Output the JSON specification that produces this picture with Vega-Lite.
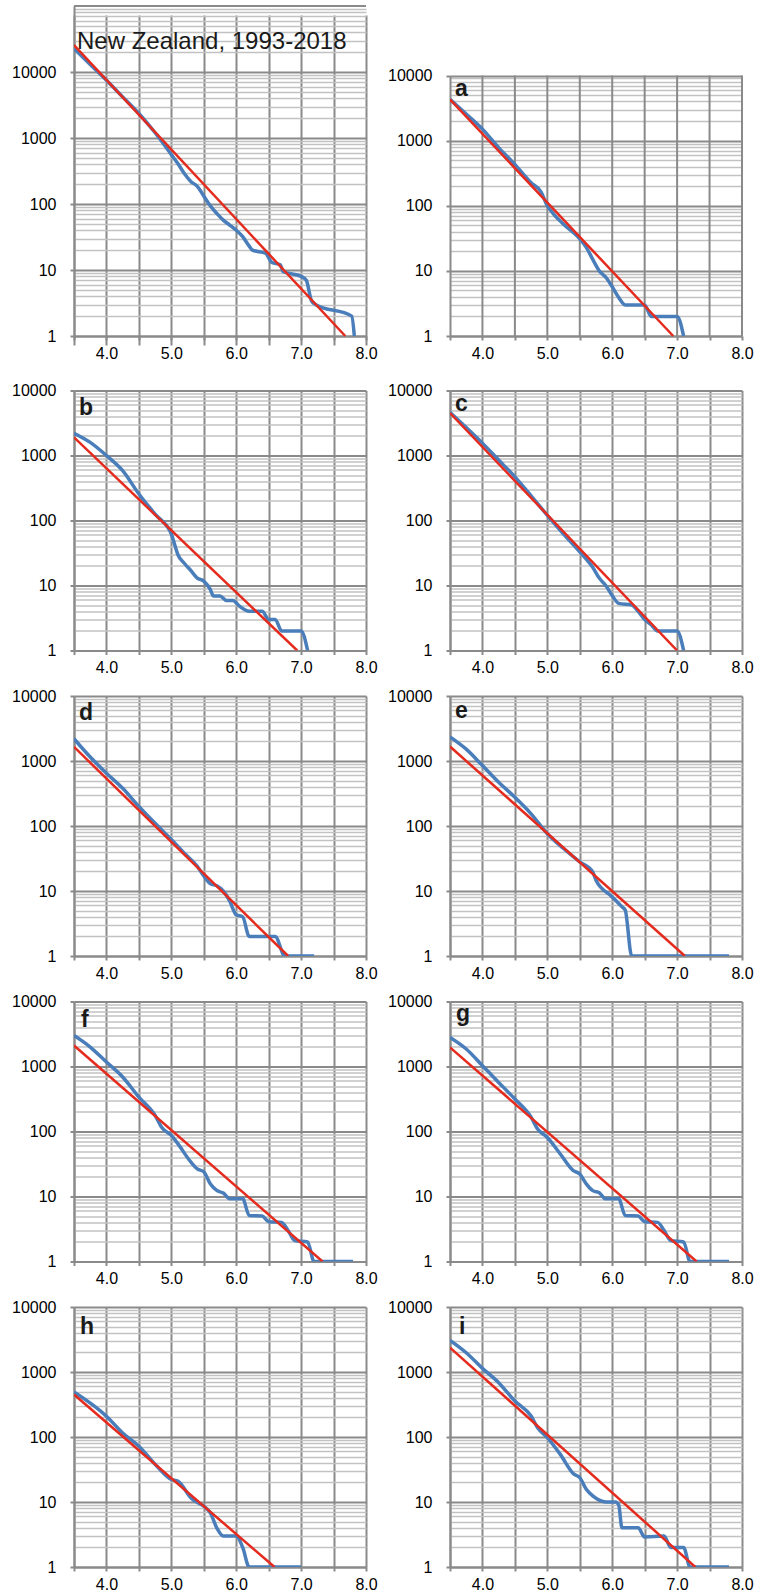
{
  "$schema": "https://vega.github.io/schema/vega-lite/v6.json",
  "padding": {"left": 11, "top": 1, "right": 0, "bottom": 0},
  "background": "white",
  "config": {
    "font": "Liberation Sans",
    "view": {"stroke": null},
    "axis": {"labelFont": "Liberation Sans", "labelFontSize": 16, "labelColor": "#000000", "domainColor": "#8a8a8a", "domainWidth": 2, "tickColor": "#8a8a8a", "tickWidth": 2, "tickSize": 4, "grid": true, "gridColor": "#8a8a8a", "gridWidth": 2, "gridOpacity": 1, "labelOverlap": false, "labelFlush": false, "labelBound": false},
    "axisX": {"labelPadding": 5, "tickCount": 20},
    "axisY": {"labelPadding": 14, "tickCount": 100}
  },
  "data": {"values": [
    {"p":"NZ","s":"obs","m":3.5,"n":22700},{"p":"NZ","s":"obs","m":3.75,"n":13000},{"p":"NZ","s":"obs","m":4.0,"n":7500},{"p":"NZ","s":"obs","m":4.25,"n":4200},{"p":"NZ","s":"obs","m":4.5,"n":2350},{"p":"NZ","s":"obs","m":4.75,"n":1200},{"p":"NZ","s":"obs","m":5.0,"n":560},{"p":"NZ","s":"obs","m":5.1,"n":410},{"p":"NZ","s":"obs","m":5.2,"n":290},{"p":"NZ","s":"obs","m":5.3,"n":220},{"p":"NZ","s":"obs","m":5.4,"n":185},{"p":"NZ","s":"obs","m":5.5,"n":132},{"p":"NZ","s":"obs","m":5.6,"n":94},{"p":"NZ","s":"obs","m":5.7,"n":72},{"p":"NZ","s":"obs","m":5.8,"n":57},{"p":"NZ","s":"obs","m":5.9,"n":48},{"p":"NZ","s":"obs","m":6.0,"n":40},{"p":"NZ","s":"obs","m":6.1,"n":32},{"p":"NZ","s":"obs","m":6.2,"n":23},{"p":"NZ","s":"obs","m":6.25,"n":20},{"p":"NZ","s":"obs","m":6.45,"n":18},{"p":"NZ","s":"obs","m":6.55,"n":13},{"p":"NZ","s":"obs","m":6.68,"n":12},{"p":"NZ","s":"obs","m":6.72,"n":9.5},{"p":"NZ","s":"obs","m":7.0,"n":8},{"p":"NZ","s":"obs","m":7.08,"n":7},{"p":"NZ","s":"obs","m":7.16,"n":3.4},{"p":"NZ","s":"obs","m":7.22,"n":3},{"p":"NZ","s":"obs","m":7.78,"n":2},{"p":"NZ","s":"obs","m":7.82,"n":1},
    {"p":"NZ","s":"fit","m":3.5,"n":25600},{"p":"NZ","s":"fit","m":7.68,"n":1},
    {"p":"a","s":"obs","m":3.5,"n":4300},{"p":"a","s":"obs","m":3.75,"n":2550},{"p":"a","s":"obs","m":4.0,"n":1500},{"p":"a","s":"obs","m":4.25,"n":780},{"p":"a","s":"obs","m":4.5,"n":430},{"p":"a","s":"obs","m":4.75,"n":225},{"p":"a","s":"obs","m":4.9,"n":165},{"p":"a","s":"obs","m":5.0,"n":100},{"p":"a","s":"obs","m":5.1,"n":74},{"p":"a","s":"obs","m":5.25,"n":52},{"p":"a","s":"obs","m":5.5,"n":31},{"p":"a","s":"obs","m":5.6,"n":23},{"p":"a","s":"obs","m":5.7,"n":15},{"p":"a","s":"obs","m":5.8,"n":10},{"p":"a","s":"obs","m":5.9,"n":8},{"p":"a","s":"obs","m":6.0,"n":5.7},{"p":"a","s":"obs","m":6.1,"n":3.9},{"p":"a","s":"obs","m":6.2,"n":3},{"p":"a","s":"obs","m":6.5,"n":3},{"p":"a","s":"obs","m":6.6,"n":2},{"p":"a","s":"obs","m":7.0,"n":2},{"p":"a","s":"obs","m":7.1,"n":1},
    {"p":"a","s":"fit","m":3.5,"n":4300},{"p":"a","s":"fit","m":6.94,"n":1},
    {"p":"b","s":"obs","m":3.5,"n":2200},{"p":"b","s":"obs","m":3.75,"n":1590},{"p":"b","s":"obs","m":4.0,"n":1000},{"p":"b","s":"obs","m":4.25,"n":585},{"p":"b","s":"obs","m":4.5,"n":256},{"p":"b","s":"obs","m":4.75,"n":125},{"p":"b","s":"obs","m":5.0,"n":62},{"p":"b","s":"obs","m":5.05,"n":43},{"p":"b","s":"obs","m":5.1,"n":30},{"p":"b","s":"obs","m":5.2,"n":22},{"p":"b","s":"obs","m":5.3,"n":17},{"p":"b","s":"obs","m":5.4,"n":13},{"p":"b","s":"obs","m":5.5,"n":11.7},{"p":"b","s":"obs","m":5.6,"n":8.7},{"p":"b","s":"obs","m":5.65,"n":6.9},{"p":"b","s":"obs","m":5.75,"n":6.9},{"p":"b","s":"obs","m":5.85,"n":5.9},{"p":"b","s":"obs","m":5.95,"n":5.9},{"p":"b","s":"obs","m":6.05,"n":4.8},{"p":"b","s":"obs","m":6.2,"n":4},{"p":"b","s":"obs","m":6.4,"n":4},{"p":"b","s":"obs","m":6.5,"n":3},{"p":"b","s":"obs","m":6.6,"n":3},{"p":"b","s":"obs","m":6.7,"n":2},{"p":"b","s":"obs","m":7.0,"n":2},{"p":"b","s":"obs","m":7.1,"n":1},
    {"p":"b","s":"fit","m":3.5,"n":1900},{"p":"b","s":"fit","m":6.94,"n":1},
    {"p":"c","s":"obs","m":3.5,"n":4600},{"p":"c","s":"obs","m":3.75,"n":2700},{"p":"c","s":"obs","m":4.0,"n":1550},{"p":"c","s":"obs","m":4.25,"n":850},{"p":"c","s":"obs","m":4.5,"n":470},{"p":"c","s":"obs","m":4.75,"n":240},{"p":"c","s":"obs","m":5.0,"n":120},{"p":"c","s":"obs","m":5.25,"n":62},{"p":"c","s":"obs","m":5.5,"n":33},{"p":"c","s":"obs","m":5.7,"n":19},{"p":"c","s":"obs","m":5.8,"n":13},{"p":"c","s":"obs","m":5.9,"n":10},{"p":"c","s":"obs","m":6.0,"n":7},{"p":"c","s":"obs","m":6.1,"n":5.3},{"p":"c","s":"obs","m":6.3,"n":5},{"p":"c","s":"obs","m":6.4,"n":4},{"p":"c","s":"obs","m":6.5,"n":3},{"p":"c","s":"obs","m":6.6,"n":2.5},{"p":"c","s":"obs","m":6.7,"n":2},{"p":"c","s":"obs","m":7.0,"n":2},{"p":"c","s":"obs","m":7.1,"n":1},
    {"p":"c","s":"fit","m":3.5,"n":4500},{"p":"c","s":"fit","m":7.0,"n":1},
    {"p":"d","s":"obs","m":3.5,"n":2200},{"p":"d","s":"obs","m":3.75,"n":1150},{"p":"d","s":"obs","m":4.0,"n":650},{"p":"d","s":"obs","m":4.25,"n":380},{"p":"d","s":"obs","m":4.5,"n":200},{"p":"d","s":"obs","m":4.75,"n":110},{"p":"d","s":"obs","m":5.0,"n":62},{"p":"d","s":"obs","m":5.2,"n":38},{"p":"d","s":"obs","m":5.4,"n":24},{"p":"d","s":"obs","m":5.5,"n":17},{"p":"d","s":"obs","m":5.6,"n":13},{"p":"d","s":"obs","m":5.7,"n":12},{"p":"d","s":"obs","m":5.8,"n":10},{"p":"d","s":"obs","m":5.9,"n":7},{"p":"d","s":"obs","m":6.0,"n":4.3},{"p":"d","s":"obs","m":6.1,"n":4},{"p":"d","s":"obs","m":6.2,"n":2},{"p":"d","s":"obs","m":6.6,"n":2},{"p":"d","s":"obs","m":6.75,"n":1},{"p":"d","s":"obs","m":7.2,"n":1},
    {"p":"d","s":"fit","m":3.5,"n":1650},{"p":"d","s":"fit","m":6.8,"n":1},
    {"p":"e","s":"obs","m":3.5,"n":2350},{"p":"e","s":"obs","m":3.75,"n":1520},{"p":"e","s":"obs","m":4.0,"n":850},{"p":"e","s":"obs","m":4.25,"n":470},{"p":"e","s":"obs","m":4.5,"n":277},{"p":"e","s":"obs","m":4.75,"n":154},{"p":"e","s":"obs","m":5.0,"n":76},{"p":"e","s":"obs","m":5.25,"n":45},{"p":"e","s":"obs","m":5.5,"n":28},{"p":"e","s":"obs","m":5.7,"n":19.6},{"p":"e","s":"obs","m":5.75,"n":14.6},{"p":"e","s":"obs","m":6.0,"n":8.1},{"p":"e","s":"obs","m":6.15,"n":5.7},{"p":"e","s":"obs","m":6.2,"n":5.1},{"p":"e","s":"obs","m":6.3,"n":1},{"p":"e","s":"obs","m":7.8,"n":1},
    {"p":"e","s":"fit","m":3.5,"n":1670},{"p":"e","s":"fit","m":7.12,"n":1},
    {"p":"f","s":"obs","m":3.5,"n":3000},{"p":"f","s":"obs","m":3.75,"n":1990},{"p":"f","s":"obs","m":4.0,"n":1170},{"p":"f","s":"obs","m":4.25,"n":690},{"p":"f","s":"obs","m":4.5,"n":338},{"p":"f","s":"obs","m":4.75,"n":177},{"p":"f","s":"obs","m":4.85,"n":116},{"p":"f","s":"obs","m":5.0,"n":87},{"p":"f","s":"obs","m":5.1,"n":65},{"p":"f","s":"obs","m":5.3,"n":34},{"p":"f","s":"obs","m":5.4,"n":26.7},{"p":"f","s":"obs","m":5.5,"n":24},{"p":"f","s":"obs","m":5.6,"n":15.7},{"p":"f","s":"obs","m":5.7,"n":12.4},{"p":"f","s":"obs","m":5.8,"n":11.3},{"p":"f","s":"obs","m":5.9,"n":9.2},{"p":"f","s":"obs","m":6.1,"n":9.2},{"p":"f","s":"obs","m":6.2,"n":5.1},{"p":"f","s":"obs","m":6.4,"n":5},{"p":"f","s":"obs","m":6.5,"n":4.1},{"p":"f","s":"obs","m":6.7,"n":4},{"p":"f","s":"obs","m":6.8,"n":3},{"p":"f","s":"obs","m":6.9,"n":2.1},{"p":"f","s":"obs","m":7.1,"n":2},{"p":"f","s":"obs","m":7.2,"n":1},{"p":"f","s":"obs","m":7.8,"n":1},
    {"p":"f","s":"fit","m":3.5,"n":2100},{"p":"f","s":"fit","m":7.33,"n":1},
    {"p":"g","s":"obs","m":3.5,"n":2800},{"p":"g","s":"obs","m":3.75,"n":1860},{"p":"g","s":"obs","m":4.0,"n":1030},{"p":"g","s":"obs","m":4.25,"n":569},{"p":"g","s":"obs","m":4.5,"n":316},{"p":"g","s":"obs","m":4.75,"n":166},{"p":"g","s":"obs","m":4.85,"n":109},{"p":"g","s":"obs","m":5.0,"n":81},{"p":"g","s":"obs","m":5.2,"n":45},{"p":"g","s":"obs","m":5.4,"n":25},{"p":"g","s":"obs","m":5.5,"n":22.2},{"p":"g","s":"obs","m":5.6,"n":15.6},{"p":"g","s":"obs","m":5.7,"n":12.3},{"p":"g","s":"obs","m":5.8,"n":11.4},{"p":"g","s":"obs","m":5.9,"n":9.2},{"p":"g","s":"obs","m":6.1,"n":9.2},{"p":"g","s":"obs","m":6.2,"n":5.1},{"p":"g","s":"obs","m":6.4,"n":5},{"p":"g","s":"obs","m":6.5,"n":4.1},{"p":"g","s":"obs","m":6.7,"n":4},{"p":"g","s":"obs","m":6.8,"n":3},{"p":"g","s":"obs","m":6.9,"n":2.1},{"p":"g","s":"obs","m":7.1,"n":2},{"p":"g","s":"obs","m":7.2,"n":1},{"p":"g","s":"obs","m":7.8,"n":1},
    {"p":"g","s":"fit","m":3.5,"n":1965},{"p":"g","s":"fit","m":7.3,"n":1},
    {"p":"h","s":"obs","m":3.5,"n":494},{"p":"h","s":"obs","m":4.0,"n":209},{"p":"h","s":"obs","m":4.25,"n":115},{"p":"h","s":"obs","m":4.5,"n":72},{"p":"h","s":"obs","m":4.8,"n":33.6},{"p":"h","s":"obs","m":5.0,"n":22.2},{"p":"h","s":"obs","m":5.1,"n":21},{"p":"h","s":"obs","m":5.3,"n":11.6},{"p":"h","s":"obs","m":5.6,"n":6.8},{"p":"h","s":"obs","m":5.7,"n":4},{"p":"h","s":"obs","m":5.8,"n":3},{"p":"h","s":"obs","m":6.0,"n":3},{"p":"h","s":"obs","m":6.1,"n":2},{"p":"h","s":"obs","m":6.2,"n":1},{"p":"h","s":"obs","m":7.0,"n":1},
    {"p":"h","s":"fit","m":3.5,"n":450},{"p":"h","s":"fit","m":6.59,"n":1},
    {"p":"i","s":"obs","m":3.5,"n":3070},{"p":"i","s":"obs","m":3.75,"n":1980},{"p":"i","s":"obs","m":4.0,"n":1138},{"p":"i","s":"obs","m":4.25,"n":685},{"p":"i","s":"obs","m":4.5,"n":358},{"p":"i","s":"obs","m":4.75,"n":210},{"p":"i","s":"obs","m":4.85,"n":139},{"p":"i","s":"obs","m":5.0,"n":98},{"p":"i","s":"obs","m":5.2,"n":54},{"p":"i","s":"obs","m":5.4,"n":27.3},{"p":"i","s":"obs","m":5.5,"n":23.7},{"p":"i","s":"obs","m":5.6,"n":15.7},{"p":"i","s":"obs","m":5.7,"n":12.4},{"p":"i","s":"obs","m":5.8,"n":10.7},{"p":"i","s":"obs","m":5.9,"n":10},{"p":"i","s":"obs","m":6.05,"n":10},{"p":"i","s":"obs","m":6.1,"n":9},{"p":"i","s":"obs","m":6.15,"n":4},{"p":"i","s":"obs","m":6.4,"n":4},{"p":"i","s":"obs","m":6.5,"n":2.9},{"p":"i","s":"obs","m":6.8,"n":3},{"p":"i","s":"obs","m":6.9,"n":2},{"p":"i","s":"obs","m":7.1,"n":2},{"p":"i","s":"obs","m":7.2,"n":1},{"p":"i","s":"obs","m":7.8,"n":1},
    {"p":"i","s":"fit","m":3.5,"n":2370},{"p":"i","s":"fit","m":7.28,"n":1}
  ]},
  "columns": 2,
  "bounds": "flush",
  "spacing": {"row": 45.5, "column": 84},
  "resolve": {"scale": {"x": "independent", "y": "independent"}},
  "concat": [
    {"width": 292, "height": 339, "layer": [
      {"transform": [{"filter": "datum.p === 'NZ' && datum.s === 'obs'"}], "mark": {"type": "line", "color": "#4A7EBB", "strokeWidth": 3.5, "interpolate": "monotone", "clip": true},
       "encoding": {"x": {"field": "m", "type": "quantitative", "scale": {"domain": [3.5, 8], "nice": false, "zero": false}, "axis": {"title": null, "offset": -9, "tickCount": 20, "values": [3.5,4,4.5,5,5.5,6,6.5,7,7.5,8], "labelExpr": "datum.value % 1 === 0 ? format(datum.value, '.1f') : ''"}},
         "y": {"field": "n", "type": "quantitative", "scale": {"type": "log", "domain": [1, 100000], "nice": false, "range": [330, 0]}, "axis": {"title": null, "tickCount": 100, "values": [1,2,3,4,5,6,7,8,9,10,20,30,40,50,60,70,80,90,100,200,300,400,500,600,700,800,900,1000,2000,3000,4000,5000,6000,7000,8000,9000,10000,20000,30000,40000,50000,60000,70000,80000,90000], "labelExpr": "indexof([1,10,100,1000,10000], datum.value) >= 0 ? format(datum.value, 'd') : ''", "gridColor": {"condition": {"test": "indexof([1,10,100,1000,10000,100000], datum.value) >= 0", "value": "#8a8a8a"}, "value": "#c2c2c2"}, "gridWidth": {"condition": {"test": "indexof([1,10,100,1000,10000,100000], datum.value) >= 0", "value": 2}, "value": 1.5}, "tickColor": {"condition": {"test": "indexof([1,10,100,1000,10000,100000], datum.value) >= 0", "value": "#8a8a8a"}, "value": "transparent"}}}}},
      {"transform": [{"filter": "datum.p === 'NZ' && datum.s === 'fit'"}], "mark": {"type": "line", "color": "#E52B1E", "strokeWidth": 2.5, "clip": true}, "encoding": {"x": {"field": "m", "type": "quantitative"}, "y": {"field": "n", "type": "quantitative"}}},
      {"data": {"values": [{"t": "top"}]}, "mark": {"type": "rule", "color": "#8a8a8a", "strokeWidth": 2}, "encoding": {"y": {"datum": 100000}}},
      {"data": {"values": [{"t": "New Zealand, 1993-2018"}]}, "mark": {"type": "text", "align": "left", "baseline": "alphabetic", "dx": 3, "dy": 43, "fontSize": 24, "color": "#1a1a1a"}, "encoding": {"x": {"datum": 3.5}, "y": {"datum": 100000}, "text": {"field": "t"}}}
    ]},
    {"width": 292, "height": 339, "layer": [
      {"data": {"values": [{"g": 1}]}, "mark": {"type": "rule", "color": "#8a8a8a", "strokeWidth": 2}, "encoding": {"x": {"datum": 4}, "y": {"datum": 1}, "y2": {"datum": 10000}}},
      {"data": {"values": [{"g": 1}]}, "mark": {"type": "rule", "color": "#8a8a8a", "strokeWidth": 2}, "encoding": {"x": {"datum": 4.5}, "y": {"datum": 1}, "y2": {"datum": 10000}}},
      {"data": {"values": [{"g": 1}]}, "mark": {"type": "rule", "color": "#8a8a8a", "strokeWidth": 2}, "encoding": {"x": {"datum": 5}, "y": {"datum": 1}, "y2": {"datum": 10000}}},
      {"data": {"values": [{"g": 1}]}, "mark": {"type": "rule", "color": "#8a8a8a", "strokeWidth": 2}, "encoding": {"x": {"datum": 5.5}, "y": {"datum": 1}, "y2": {"datum": 10000}}},
      {"data": {"values": [{"g": 1}]}, "mark": {"type": "rule", "color": "#8a8a8a", "strokeWidth": 2}, "encoding": {"x": {"datum": 6}, "y": {"datum": 1}, "y2": {"datum": 10000}}},
      {"data": {"values": [{"g": 1}]}, "mark": {"type": "rule", "color": "#8a8a8a", "strokeWidth": 2}, "encoding": {"x": {"datum": 6.5}, "y": {"datum": 1}, "y2": {"datum": 10000}}},
      {"data": {"values": [{"g": 1}]}, "mark": {"type": "rule", "color": "#8a8a8a", "strokeWidth": 2}, "encoding": {"x": {"datum": 7}, "y": {"datum": 1}, "y2": {"datum": 10000}}},
      {"data": {"values": [{"g": 1}]}, "mark": {"type": "rule", "color": "#8a8a8a", "strokeWidth": 2}, "encoding": {"x": {"datum": 7.5}, "y": {"datum": 1}, "y2": {"datum": 10000}}},
      {"data": {"values": [{"g": 1}]}, "mark": {"type": "rule", "color": "#8a8a8a", "strokeWidth": 2}, "encoding": {"x": {"datum": 8}, "y": {"datum": 1}, "y2": {"datum": 10000}}},
      {"transform": [{"filter": "datum.p === 'a' && datum.s === 'obs'"}], "mark": {"type": "line", "color": "#4A7EBB", "strokeWidth": 3.5, "interpolate": "monotone", "clip": true},
       "encoding": {"x": {"field": "m", "type": "quantitative", "scale": {"domain": [3.5, 8], "nice": false, "zero": false}, "axis": {"title": null, "grid": false, "offset": -9, "tickCount": 20, "values": [3.5,4,4.5,5,5.5,6,6.5,7,7.5,8], "labelExpr": "datum.value % 1 === 0 ? format(datum.value, '.1f') : ''"}},
         "y": {"field": "n", "type": "quantitative", "scale": {"type": "log", "domain": [1, 10000], "nice": false, "range": [330, 69.5]}, "axis": {"title": null, "tickCount": 100, "values": [1,2,3,4,5,6,7,8,9,10,20,30,40,50,60,70,80,90,100,200,300,400,500,600,700,800,900,1000,2000,3000,4000,5000,6000,7000,8000,9000,10000], "labelExpr": "indexof([1,10,100,1000,10000], datum.value) >= 0 ? format(datum.value, 'd') : ''", "gridColor": {"condition": {"test": "indexof([1,10,100,1000,10000], datum.value) >= 0", "value": "#8a8a8a"}, "value": "#c2c2c2"}, "gridWidth": {"condition": {"test": "indexof([1,10,100,1000,10000], datum.value) >= 0", "value": 2}, "value": 1.5}, "tickColor": {"condition": {"test": "indexof([1,10,100,1000,10000], datum.value) >= 0", "value": "#8a8a8a"}, "value": "transparent"}}}}},
      {"transform": [{"filter": "datum.p === 'a' && datum.s === 'fit'"}], "mark": {"type": "line", "color": "#E52B1E", "strokeWidth": 2.5, "clip": true}, "encoding": {"x": {"field": "m", "type": "quantitative"}, "y": {"field": "n", "type": "quantitative"}}},
      {"data": {"values": [{"t": "a"}]}, "mark": {"type": "text", "align": "left", "baseline": "alphabetic", "dx": 5, "dy": 20, "fontSize": 23, "fontWeight": "bold", "color": "#1a1a1a"}, "encoding": {"x": {"datum": 3.5}, "y": {"datum": 10000}, "text": {"field": "t"}}}
    ]},
    {"width": 292, "height": 260, "layer": [
      {"transform": [{"filter": "datum.p === 'b' && datum.s === 'obs'"}], "mark": {"type": "line", "color": "#4A7EBB", "strokeWidth": 3.5, "interpolate": "monotone", "clip": true},
       "encoding": {"x": {"field": "m", "type": "quantitative", "scale": {"domain": [3.5, 8], "nice": false, "zero": false}, "axis": {"title": null, "tickCount": 20, "values": [3.5,4,4.5,5,5.5,6,6.5,7,7.5,8], "labelExpr": "datum.value % 1 === 0 ? format(datum.value, '.1f') : ''"}},
         "y": {"field": "n", "type": "quantitative", "scale": {"type": "log", "domain": [1, 10000], "nice": false}, "axis": {"title": null, "tickCount": 100, "values": [1,2,3,4,5,6,7,8,9,10,20,30,40,50,60,70,80,90,100,200,300,400,500,600,700,800,900,1000,2000,3000,4000,5000,6000,7000,8000,9000,10000], "labelExpr": "indexof([1,10,100,1000,10000], datum.value) >= 0 ? format(datum.value, 'd') : ''", "gridColor": {"condition": {"test": "indexof([1,10,100,1000,10000], datum.value) >= 0", "value": "#8a8a8a"}, "value": "#c2c2c2"}, "gridWidth": {"condition": {"test": "indexof([1,10,100,1000,10000], datum.value) >= 0", "value": 2}, "value": 1.5}, "tickColor": {"condition": {"test": "indexof([1,10,100,1000,10000], datum.value) >= 0", "value": "#8a8a8a"}, "value": "transparent"}}}}},
      {"transform": [{"filter": "datum.p === 'b' && datum.s === 'fit'"}], "mark": {"type": "line", "color": "#E52B1E", "strokeWidth": 2.5, "clip": true}, "encoding": {"x": {"field": "m", "type": "quantitative"}, "y": {"field": "n", "type": "quantitative"}}},
      {"data": {"values": [{"t": "b"}]}, "mark": {"type": "text", "align": "left", "baseline": "alphabetic", "dx": 5, "dy": 24, "fontSize": 23, "fontWeight": "bold", "color": "#1a1a1a"}, "encoding": {"x": {"datum": 3.5}, "y": {"datum": 10000}, "text": {"field": "t"}}}
    ]},
    {"width": 292, "height": 260, "layer": [
      {"transform": [{"filter": "datum.p === 'c' && datum.s === 'obs'"}], "mark": {"type": "line", "color": "#4A7EBB", "strokeWidth": 3.5, "interpolate": "monotone", "clip": true},
       "encoding": {"x": {"field": "m", "type": "quantitative", "scale": {"domain": [3.5, 8], "nice": false, "zero": false}, "axis": {"title": null, "tickCount": 20, "values": [3.5,4,4.5,5,5.5,6,6.5,7,7.5,8], "labelExpr": "datum.value % 1 === 0 ? format(datum.value, '.1f') : ''"}},
         "y": {"field": "n", "type": "quantitative", "scale": {"type": "log", "domain": [1, 10000], "nice": false}, "axis": {"title": null, "tickCount": 100, "values": [1,2,3,4,5,6,7,8,9,10,20,30,40,50,60,70,80,90,100,200,300,400,500,600,700,800,900,1000,2000,3000,4000,5000,6000,7000,8000,9000,10000], "labelExpr": "indexof([1,10,100,1000,10000], datum.value) >= 0 ? format(datum.value, 'd') : ''", "gridColor": {"condition": {"test": "indexof([1,10,100,1000,10000], datum.value) >= 0", "value": "#8a8a8a"}, "value": "#c2c2c2"}, "gridWidth": {"condition": {"test": "indexof([1,10,100,1000,10000], datum.value) >= 0", "value": 2}, "value": 1.5}, "tickColor": {"condition": {"test": "indexof([1,10,100,1000,10000], datum.value) >= 0", "value": "#8a8a8a"}, "value": "transparent"}}}}},
      {"transform": [{"filter": "datum.p === 'c' && datum.s === 'fit'"}], "mark": {"type": "line", "color": "#E52B1E", "strokeWidth": 2.5, "clip": true}, "encoding": {"x": {"field": "m", "type": "quantitative"}, "y": {"field": "n", "type": "quantitative"}}},
      {"data": {"values": [{"t": "c"}]}, "mark": {"type": "text", "align": "left", "baseline": "alphabetic", "dx": 5, "dy": 20, "fontSize": 23, "fontWeight": "bold", "color": "#1a1a1a"}, "encoding": {"x": {"datum": 3.5}, "y": {"datum": 10000}, "text": {"field": "t"}}}
    ]},
    {"width": 292, "height": 260, "layer": [
      {"transform": [{"filter": "datum.p === 'd' && datum.s === 'obs'"}], "mark": {"type": "line", "color": "#4A7EBB", "strokeWidth": 3.5, "interpolate": "monotone", "clip": true},
       "encoding": {"x": {"field": "m", "type": "quantitative", "scale": {"domain": [3.5, 8], "nice": false, "zero": false}, "axis": {"title": null, "tickCount": 20, "values": [3.5,4,4.5,5,5.5,6,6.5,7,7.5,8], "labelExpr": "datum.value % 1 === 0 ? format(datum.value, '.1f') : ''"}},
         "y": {"field": "n", "type": "quantitative", "scale": {"type": "log", "domain": [1, 10000], "nice": false}, "axis": {"title": null, "tickCount": 100, "values": [1,2,3,4,5,6,7,8,9,10,20,30,40,50,60,70,80,90,100,200,300,400,500,600,700,800,900,1000,2000,3000,4000,5000,6000,7000,8000,9000,10000], "labelExpr": "indexof([1,10,100,1000,10000], datum.value) >= 0 ? format(datum.value, 'd') : ''", "gridColor": {"condition": {"test": "indexof([1,10,100,1000,10000], datum.value) >= 0", "value": "#8a8a8a"}, "value": "#c2c2c2"}, "gridWidth": {"condition": {"test": "indexof([1,10,100,1000,10000], datum.value) >= 0", "value": 2}, "value": 1.5}, "tickColor": {"condition": {"test": "indexof([1,10,100,1000,10000], datum.value) >= 0", "value": "#8a8a8a"}, "value": "transparent"}}}}},
      {"transform": [{"filter": "datum.p === 'd' && datum.s === 'fit'"}], "mark": {"type": "line", "color": "#E52B1E", "strokeWidth": 2.5, "clip": true}, "encoding": {"x": {"field": "m", "type": "quantitative"}, "y": {"field": "n", "type": "quantitative"}}},
      {"data": {"values": [{"t": "d"}]}, "mark": {"type": "text", "align": "left", "baseline": "alphabetic", "dx": 5, "dy": 24, "fontSize": 23, "fontWeight": "bold", "color": "#1a1a1a"}, "encoding": {"x": {"datum": 3.5}, "y": {"datum": 10000}, "text": {"field": "t"}}}
    ]},
    {"width": 292, "height": 260, "layer": [
      {"transform": [{"filter": "datum.p === 'e' && datum.s === 'obs'"}], "mark": {"type": "line", "color": "#4A7EBB", "strokeWidth": 3.5, "interpolate": "monotone", "clip": true},
       "encoding": {"x": {"field": "m", "type": "quantitative", "scale": {"domain": [3.5, 8], "nice": false, "zero": false}, "axis": {"title": null, "tickCount": 20, "values": [3.5,4,4.5,5,5.5,6,6.5,7,7.5,8], "labelExpr": "datum.value % 1 === 0 ? format(datum.value, '.1f') : ''"}},
         "y": {"field": "n", "type": "quantitative", "scale": {"type": "log", "domain": [1, 10000], "nice": false}, "axis": {"title": null, "tickCount": 100, "values": [1,2,3,4,5,6,7,8,9,10,20,30,40,50,60,70,80,90,100,200,300,400,500,600,700,800,900,1000,2000,3000,4000,5000,6000,7000,8000,9000,10000], "labelExpr": "indexof([1,10,100,1000,10000], datum.value) >= 0 ? format(datum.value, 'd') : ''", "gridColor": {"condition": {"test": "indexof([1,10,100,1000,10000], datum.value) >= 0", "value": "#8a8a8a"}, "value": "#c2c2c2"}, "gridWidth": {"condition": {"test": "indexof([1,10,100,1000,10000], datum.value) >= 0", "value": 2}, "value": 1.5}, "tickColor": {"condition": {"test": "indexof([1,10,100,1000,10000], datum.value) >= 0", "value": "#8a8a8a"}, "value": "transparent"}}}}},
      {"transform": [{"filter": "datum.p === 'e' && datum.s === 'fit'"}], "mark": {"type": "line", "color": "#E52B1E", "strokeWidth": 2.5, "clip": true}, "encoding": {"x": {"field": "m", "type": "quantitative"}, "y": {"field": "n", "type": "quantitative"}}},
      {"data": {"values": [{"t": "e"}]}, "mark": {"type": "text", "align": "left", "baseline": "alphabetic", "dx": 5, "dy": 22, "fontSize": 23, "fontWeight": "bold", "color": "#1a1a1a"}, "encoding": {"x": {"datum": 3.5}, "y": {"datum": 10000}, "text": {"field": "t"}}}
    ]},
    {"width": 292, "height": 260, "layer": [
      {"transform": [{"filter": "datum.p === 'f' && datum.s === 'obs'"}], "mark": {"type": "line", "color": "#4A7EBB", "strokeWidth": 3.5, "interpolate": "monotone", "clip": true},
       "encoding": {"x": {"field": "m", "type": "quantitative", "scale": {"domain": [3.5, 8], "nice": false, "zero": false}, "axis": {"title": null, "tickCount": 20, "values": [3.5,4,4.5,5,5.5,6,6.5,7,7.5,8], "labelExpr": "datum.value % 1 === 0 ? format(datum.value, '.1f') : ''"}},
         "y": {"field": "n", "type": "quantitative", "scale": {"type": "log", "domain": [1, 10000], "nice": false}, "axis": {"title": null, "tickCount": 100, "values": [1,2,3,4,5,6,7,8,9,10,20,30,40,50,60,70,80,90,100,200,300,400,500,600,700,800,900,1000,2000,3000,4000,5000,6000,7000,8000,9000,10000], "labelExpr": "indexof([1,10,100,1000,10000], datum.value) >= 0 ? format(datum.value, 'd') : ''", "gridColor": {"condition": {"test": "indexof([1,10,100,1000,10000], datum.value) >= 0", "value": "#8a8a8a"}, "value": "#c2c2c2"}, "gridWidth": {"condition": {"test": "indexof([1,10,100,1000,10000], datum.value) >= 0", "value": 2}, "value": 1.5}, "tickColor": {"condition": {"test": "indexof([1,10,100,1000,10000], datum.value) >= 0", "value": "#8a8a8a"}, "value": "transparent"}}}}},
      {"transform": [{"filter": "datum.p === 'f' && datum.s === 'fit'"}], "mark": {"type": "line", "color": "#E52B1E", "strokeWidth": 2.5, "clip": true}, "encoding": {"x": {"field": "m", "type": "quantitative"}, "y": {"field": "n", "type": "quantitative"}}},
      {"data": {"values": [{"t": "f"}]}, "mark": {"type": "text", "align": "left", "baseline": "alphabetic", "dx": 7, "dy": 25, "fontSize": 23, "fontWeight": "bold", "color": "#1a1a1a"}, "encoding": {"x": {"datum": 3.5}, "y": {"datum": 10000}, "text": {"field": "t"}}}
    ]},
    {"width": 292, "height": 260, "layer": [
      {"transform": [{"filter": "datum.p === 'g' && datum.s === 'obs'"}], "mark": {"type": "line", "color": "#4A7EBB", "strokeWidth": 3.5, "interpolate": "monotone", "clip": true},
       "encoding": {"x": {"field": "m", "type": "quantitative", "scale": {"domain": [3.5, 8], "nice": false, "zero": false}, "axis": {"title": null, "tickCount": 20, "values": [3.5,4,4.5,5,5.5,6,6.5,7,7.5,8], "labelExpr": "datum.value % 1 === 0 ? format(datum.value, '.1f') : ''"}},
         "y": {"field": "n", "type": "quantitative", "scale": {"type": "log", "domain": [1, 10000], "nice": false}, "axis": {"title": null, "tickCount": 100, "values": [1,2,3,4,5,6,7,8,9,10,20,30,40,50,60,70,80,90,100,200,300,400,500,600,700,800,900,1000,2000,3000,4000,5000,6000,7000,8000,9000,10000], "labelExpr": "indexof([1,10,100,1000,10000], datum.value) >= 0 ? format(datum.value, 'd') : ''", "gridColor": {"condition": {"test": "indexof([1,10,100,1000,10000], datum.value) >= 0", "value": "#8a8a8a"}, "value": "#c2c2c2"}, "gridWidth": {"condition": {"test": "indexof([1,10,100,1000,10000], datum.value) >= 0", "value": 2}, "value": 1.5}, "tickColor": {"condition": {"test": "indexof([1,10,100,1000,10000], datum.value) >= 0", "value": "#8a8a8a"}, "value": "transparent"}}}}},
      {"transform": [{"filter": "datum.p === 'g' && datum.s === 'fit'"}], "mark": {"type": "line", "color": "#E52B1E", "strokeWidth": 2.5, "clip": true}, "encoding": {"x": {"field": "m", "type": "quantitative"}, "y": {"field": "n", "type": "quantitative"}}},
      {"data": {"values": [{"t": "g"}]}, "mark": {"type": "text", "align": "left", "baseline": "alphabetic", "dx": 6, "dy": 19, "fontSize": 23, "fontWeight": "bold", "color": "#1a1a1a"}, "encoding": {"x": {"datum": 3.5}, "y": {"datum": 10000}, "text": {"field": "t"}}}
    ]},
    {"width": 292, "height": 260, "layer": [
      {"transform": [{"filter": "datum.p === 'h' && datum.s === 'obs'"}], "mark": {"type": "line", "color": "#4A7EBB", "strokeWidth": 3.5, "interpolate": "monotone", "clip": true},
       "encoding": {"x": {"field": "m", "type": "quantitative", "scale": {"domain": [3.5, 8], "nice": false, "zero": false}, "axis": {"title": null, "tickCount": 20, "values": [3.5,4,4.5,5,5.5,6,6.5,7,7.5,8], "labelExpr": "datum.value % 1 === 0 ? format(datum.value, '.1f') : ''"}},
         "y": {"field": "n", "type": "quantitative", "scale": {"type": "log", "domain": [1, 10000], "nice": false}, "axis": {"title": null, "tickCount": 100, "values": [1,2,3,4,5,6,7,8,9,10,20,30,40,50,60,70,80,90,100,200,300,400,500,600,700,800,900,1000,2000,3000,4000,5000,6000,7000,8000,9000,10000], "labelExpr": "indexof([1,10,100,1000,10000], datum.value) >= 0 ? format(datum.value, 'd') : ''", "gridColor": {"condition": {"test": "indexof([1,10,100,1000,10000], datum.value) >= 0", "value": "#8a8a8a"}, "value": "#c2c2c2"}, "gridWidth": {"condition": {"test": "indexof([1,10,100,1000,10000], datum.value) >= 0", "value": 2}, "value": 1.5}, "tickColor": {"condition": {"test": "indexof([1,10,100,1000,10000], datum.value) >= 0", "value": "#8a8a8a"}, "value": "transparent"}}}}},
      {"transform": [{"filter": "datum.p === 'h' && datum.s === 'fit'"}], "mark": {"type": "line", "color": "#E52B1E", "strokeWidth": 2.5, "clip": true}, "encoding": {"x": {"field": "m", "type": "quantitative"}, "y": {"field": "n", "type": "quantitative"}}},
      {"data": {"values": [{"t": "h"}]}, "mark": {"type": "text", "align": "left", "baseline": "alphabetic", "dx": 6, "dy": 27, "fontSize": 23, "fontWeight": "bold", "color": "#1a1a1a"}, "encoding": {"x": {"datum": 3.5}, "y": {"datum": 10000}, "text": {"field": "t"}}}
    ]},
    {"width": 292, "height": 260, "layer": [
      {"transform": [{"filter": "datum.p === 'i' && datum.s === 'obs'"}], "mark": {"type": "line", "color": "#4A7EBB", "strokeWidth": 3.5, "interpolate": "monotone", "clip": true},
       "encoding": {"x": {"field": "m", "type": "quantitative", "scale": {"domain": [3.5, 8], "nice": false, "zero": false}, "axis": {"title": null, "tickCount": 20, "values": [3.5,4,4.5,5,5.5,6,6.5,7,7.5,8], "labelExpr": "datum.value % 1 === 0 ? format(datum.value, '.1f') : ''"}},
         "y": {"field": "n", "type": "quantitative", "scale": {"type": "log", "domain": [1, 10000], "nice": false}, "axis": {"title": null, "tickCount": 100, "values": [1,2,3,4,5,6,7,8,9,10,20,30,40,50,60,70,80,90,100,200,300,400,500,600,700,800,900,1000,2000,3000,4000,5000,6000,7000,8000,9000,10000], "labelExpr": "indexof([1,10,100,1000,10000], datum.value) >= 0 ? format(datum.value, 'd') : ''", "gridColor": {"condition": {"test": "indexof([1,10,100,1000,10000], datum.value) >= 0", "value": "#8a8a8a"}, "value": "#c2c2c2"}, "gridWidth": {"condition": {"test": "indexof([1,10,100,1000,10000], datum.value) >= 0", "value": 2}, "value": 1.5}, "tickColor": {"condition": {"test": "indexof([1,10,100,1000,10000], datum.value) >= 0", "value": "#8a8a8a"}, "value": "transparent"}}}}},
      {"transform": [{"filter": "datum.p === 'i' && datum.s === 'fit'"}], "mark": {"type": "line", "color": "#E52B1E", "strokeWidth": 2.5, "clip": true}, "encoding": {"x": {"field": "m", "type": "quantitative"}, "y": {"field": "n", "type": "quantitative"}}},
      {"data": {"values": [{"t": "i"}]}, "mark": {"type": "text", "align": "left", "baseline": "alphabetic", "dx": 9, "dy": 27, "fontSize": 23, "fontWeight": "bold", "color": "#1a1a1a"}, "encoding": {"x": {"datum": 3.5}, "y": {"datum": 10000}, "text": {"field": "t"}}}
    ]}
  ]
}
